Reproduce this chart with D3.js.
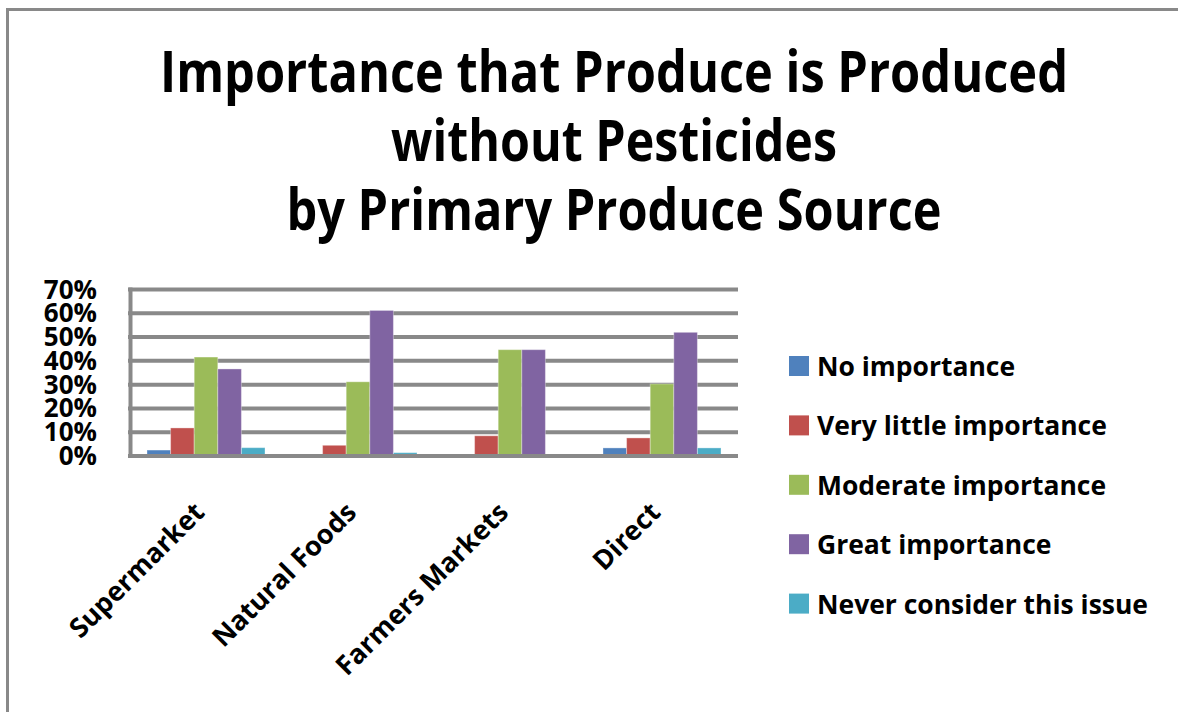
<!DOCTYPE html>
<html>
<head>
<meta charset="utf-8">
<script src="https://cdn.jsdelivr.net/npm/d3@7"></script>
<style>
  html, body { margin: 0; padding: 0; background: #fff; overflow: hidden; }
  text { font-family: "Open Sans", "DejaVu Sans", sans-serif; font-weight: 700; fill: #000; }
</style>
</head>
<body>
<div id="chart"></div>
<script>
// data (percent)
const categories = ["Supermarket", "Natural Foods", "Farmers Markets", "Direct"];
const seriesNames = ["No importance", "Very little importance", "Moderate importance", "Great importance", "Never consider this issue"];
const noImportance = [2.5, 0, 0, 3.4];
const veryLittle = [11.8, 4.5, 8.5, 7.6];
const moderate = [41.6, 31.2, 44.7, 30.3];
const great = [36.6, 61.2, 44.7, 52.0];
const neverConsider = [3.5, 1.4, 0, 3.4];
const yTicks = [0, 10, 20, 30, 40, 50, 60, 70];
const titleLines = ["Importance that Produce is Produced", "without Pesticides", "by Primary Produce Source"];

const colors = ["#4f81bd", "#c0504d", "#9bbb59", "#8064a2", "#4bacc6"];
const seriesValues = [noImportance, veryLittle, moderate, great, neverConsider];

const width = 1178;
const height = 712;
const gridColor = "#898989";

const svg = d3.select("#chart").append("svg")
  .attr("width", width)
  .attr("height", height);

// outer frame (runs off right and bottom edge like the original)
svg.append("rect")
  .attr("x", 7.5).attr("y", 9.5)
  .attr("width", 1200).attr("height", 800)
  .attr("fill", "none")
  .attr("stroke", gridColor)
  .attr("stroke-width", 3);

// squeeze text horizontally to a wanted width
function fitWidth(sel, w) {
  sel.attr("textLength", w).attr("lengthAdjust", "spacingAndGlyphs");
}

// title
const titleWidths = [908, 446, 655];
const titleY = [92, 161, 230];
titleLines.forEach((t, i) => {
  svg.append("text")
    .attr("x", 614)
    .attr("y", titleY[i])
    .attr("text-anchor", "middle")
    .style("font-size", "58px")
    .text(t)
    .call(fitWidth, titleWidths[i]);
});

// scales
const x0 = d3.scaleBand()
  .domain(categories)
  .range([130, 738]);

const x1 = d3.scaleBand()
  .domain(seriesNames)
  .range([0, x0.bandwidth()])
  .paddingOuter(0.72);

const y = d3.scaleLinear()
  .domain([0, 70])
  .range([456, 289.5]);

// gridlines
const grid = svg.append("g");
grid.selectAll("line")
  .data(yTicks.filter(d => d > 0))
  .enter().append("line")
  .attr("x1", 128).attr("x2", 738)
  .attr("y1", d => y(d)).attr("y2", d => y(d))
  .attr("stroke", gridColor)
  .attr("stroke-width", 4);

// left wall line
svg.append("line")
  .attr("x1", 130.5).attr("x2", 130.5)
  .attr("y1", y(70) - 2).attr("y2", y(0) + 2)
  .attr("stroke", gridColor)
  .attr("stroke-width", 4);

// bars
const groups = svg.selectAll("g.cat")
  .data(categories)
  .enter().append("g")
  .attr("class", "cat")
  .attr("transform", d => `translate(${x0(d)},0)`);

groups.selectAll("rect")
  .data((d, ci) => seriesNames.map((s, si) => ({ s, si, v: seriesValues[si][ci] })))
  .enter().append("rect")
  .attr("x", d => x1(d.s))
  .attr("width", x1.bandwidth())
  .attr("y", d => y(d.v))
  .attr("height", d => y(0) - y(d.v))
  .attr("fill", d => colors[d.si])
  .attr("stroke", "rgba(255,255,255,0.35)")
  .attr("stroke-width", 1);

// floor line
svg.append("line")
  .attr("x1", 128).attr("x2", 738)
  .attr("y1", y(0)).attr("y2", y(0))
  .attr("stroke", gridColor)
  .attr("stroke-width", 4);

// y axis labels
svg.append("g").selectAll("text")
  .data(yTicks)
  .enter().append("text")
  .attr("x", 97)
  .attr("y", d => y(d) + 9)
  .attr("text-anchor", "end")
  .style("font-size", "26px")
  .text(d => d + "%");

// category labels, rotated, ending at the middle of each group
svg.append("g").selectAll("text")
  .data(categories)
  .enter().append("text")
  .attr("text-anchor", "end")
  .attr("transform", d => `translate(${x0(d) + x0.bandwidth() / 2},514) rotate(-45)`)
  .style("font-size", "27px")
  .text(d => d);

// legend
const legend = svg.append("g").selectAll("g")
  .data(seriesNames)
  .enter().append("g")
  .attr("transform", (d, i) => `translate(789, ${366 + i * 59.4})`);

legend.append("rect")
  .attr("x", 0).attr("y", -10)
  .attr("width", 20).attr("height", 20)
  .attr("fill", (d, i) => colors[i]);

const legendText = legend.append("text")
  .attr("x", 28)
  .attr("y", 10)
  .style("font-size", "27px")
  .text(d => d);

// squeeze legend labels by one common factor so the longest fits
const longest = d3.max(legendText.nodes(), n => n.getComputedTextLength());
const k = 331 / longest;
legendText.each(function() {
  const w = this.getComputedTextLength();
  d3.select(this).call(fitWidth, w * k);
});
</script>
</body>
</html>
